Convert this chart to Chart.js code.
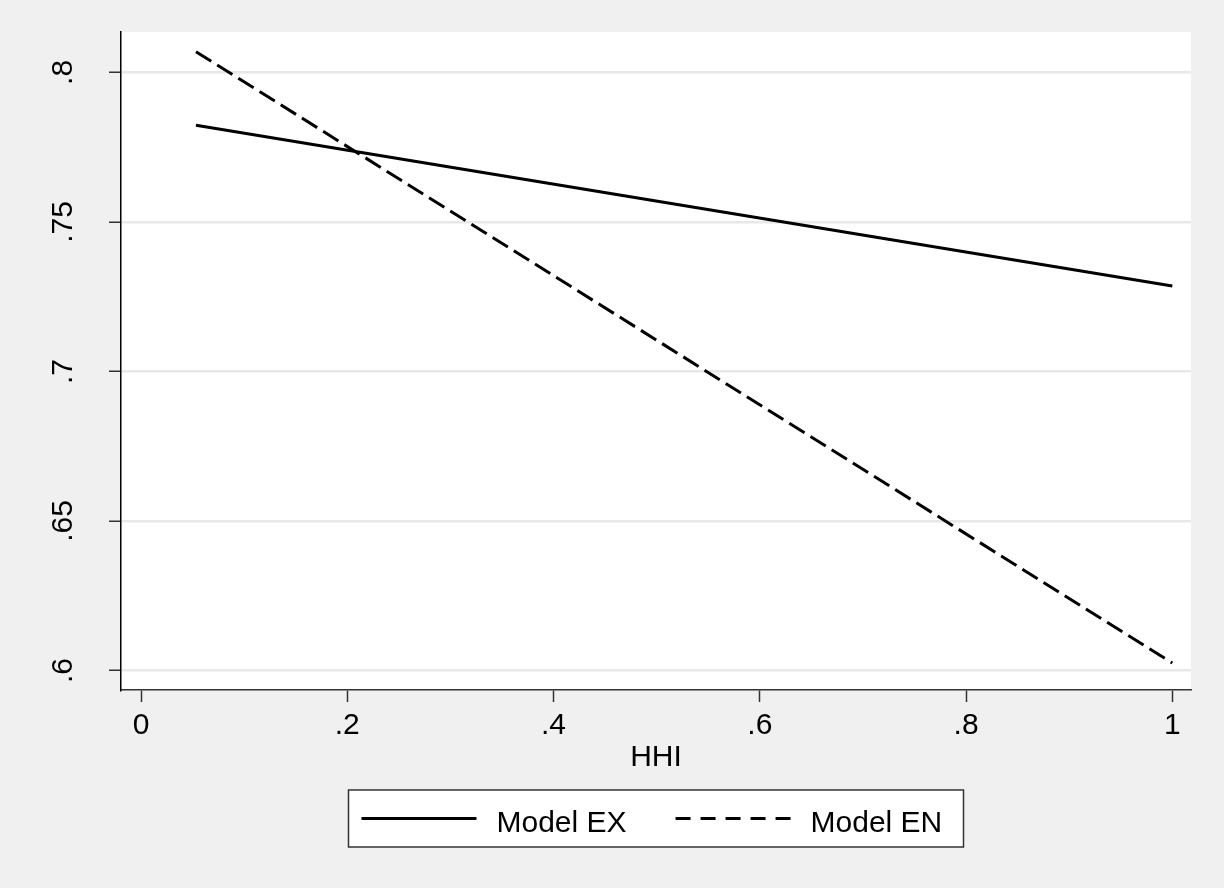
<!DOCTYPE html>
<html>
<head>
<meta charset="utf-8">
<script src="https://cdn.jsdelivr.net/npm/chart.js@4.4.1/dist/chart.umd.min.js"></script>
<style>
  html, body { margin: 0; padding: 0; background: #f0f0f0; }
  #wrap { width: 1224px; height: 888px; }
</style>
</head>
<body>
<div id="wrap"><canvas id="myChart" width="1224" height="888"></canvas></div>
<script>
'use strict';
// data
let hhi = [0.0533, 1];
let modelEX = [0.7823, 0.7286];
let modelEN = [0.8069, 0.6025];
let seriesNames = ['Model EX', 'Model EN'];

let xTicks = [0, 0.2, 0.4, 0.6, 0.8, 1];
let xTickLabels = ['0', '.2', '.4', '.6', '.8', '1'];
let yTicks = [0.6, 0.65, 0.7, 0.75, 0.8];
let yTickLabels = ['.6', '.65', '.7', '.75', '.8'];
let xTitle = 'HHI';

let FONT = '"Liberation Sans", Arial, sans-serif';

function toPoints(xs, ys) {
  let pts = [];
  for (let i = 0; i < xs.length; i++) {
    pts.push({ x: xs[i], y: ys[i] });
  }
  return pts;
}

// backgrounds, y labels (rotated), x title and the boxed legend
let stataLook = {
  id: 'stataLook',
  beforeDraw(chart) {
    let ctx = chart.ctx;
    let a = chart.chartArea;
    ctx.save();
    ctx.fillStyle = '#f0f0f0';
    ctx.fillRect(0, 0, chart.width, chart.height);
    ctx.fillStyle = '#ffffff';
    ctx.fillRect(a.left, a.top, a.right - a.left, a.bottom - a.top);
    ctx.restore();
  },
  afterDraw(chart) {
    let ctx = chart.ctx;
    let a = chart.chartArea;
    let yScale = chart.scales.y;
    ctx.save();
    ctx.fillStyle = '#000';
    ctx.font = '30px ' + FONT;

    // y tick labels, reading bottom to top
    for (let i = 0; i < yTicks.length; i++) {
      let py = yScale.getPixelForValue(yTicks[i]);
      ctx.save();
      ctx.translate(a.left - 49.5, py);
      ctx.rotate(-Math.PI / 2);
      ctx.textAlign = 'center';
      ctx.textBaseline = 'alphabetic';
      ctx.fillText(yTickLabels[i], 0, 0);
      ctx.restore();
    }

    // x title
    let cx = (a.left + a.right) / 2;
    ctx.textAlign = 'center';
    ctx.textBaseline = 'alphabetic';
    ctx.fillText(xTitle, cx, 766);

    // legend box
    let boxW = 615, boxTop = 790, boxH = 57;
    let boxLeft = cx - boxW / 2;
    ctx.fillStyle = '#ffffff';
    ctx.fillRect(boxLeft, boxTop, boxW, boxH);
    ctx.strokeStyle = '#333';
    ctx.lineWidth = 1.5;
    ctx.strokeRect(boxLeft, boxTop, boxW, boxH);

    let midY = boxTop + 28.5;
    let dashes = [[], [15, 10]];
    let x = boxLeft + 13;
    ctx.textAlign = 'left';
    for (let i = 0; i < seriesNames.length; i++) {
      ctx.beginPath();
      ctx.setLineDash(dashes[i]);
      ctx.lineWidth = 3;
      ctx.strokeStyle = '#000';
      ctx.moveTo(x, midY);
      ctx.lineTo(x + 115, midY);
      ctx.stroke();
      ctx.setLineDash([]);
      x += 135;
      ctx.fillStyle = '#000';
      ctx.fillText(seriesNames[i], x, midY + 13);
      x += ctx.measureText(seriesNames[i]).width + 49;
    }
    ctx.restore();
  }
};

let ctx = document.getElementById('myChart').getContext('2d');
let myChart = new Chart(ctx, {
  type: 'scatter',
  data: {
    datasets: [{
      label: seriesNames[0],
      data: toPoints(hhi, modelEX),
      showLine: true,
      borderColor: '#000',
      borderWidth: 3,
      pointRadius: 0
    }, {
      label: seriesNames[1],
      data: toPoints(hhi, modelEN),
      showLine: true,
      borderColor: '#000',
      borderWidth: 3,
      borderDash: [18, 7],
      pointRadius: 0
    }]
  },
  options: {
    responsive: false,
    animation: false,
    layout: { padding: { top: 32, right: 33, left: 0, bottom: 0 } },
    plugins: {
      legend: { display: false },
      tooltip: { enabled: false }
    },
    scales: {
      x: {
        type: 'linear',
        min: -0.0194,
        max: 1.0181,
        afterBuildTicks: function (s) { s.ticks = xTicks.map(v => ({ value: v })); },
        afterFit: function (s) { s.height = 198; },
        grid: { drawOnChartArea: false, drawTicks: true, tickLength: 12, tickColor: '#333', tickWidth: 1.5 },
        border: { display: true, color: '#333', width: 1.5 },
        ticks: {
          padding: 6,
          color: '#000',
          font: { family: FONT, size: 30 },
          maxRotation: 0,
          callback: function (v, i) { return xTickLabels[i]; }
        }
      },
      y: {
        type: 'linear',
        min: 0.5935,
        max: 0.8135,
        afterBuildTicks: function (s) { s.ticks = yTicks.map(v => ({ value: v })); },
        afterFit: function (s) { s.width = 121; },
        grid: { color: '#e8e8e8', lineWidth: 2.5, drawTicks: true, tickLength: 12, tickColor: '#333', tickWidth: 1.5 },
        border: { display: true, color: '#000', width: 1.5 },
        ticks: { display: false }
      }
    }
  },
  plugins: [stataLook]
});
</script>
</body>
</html>
